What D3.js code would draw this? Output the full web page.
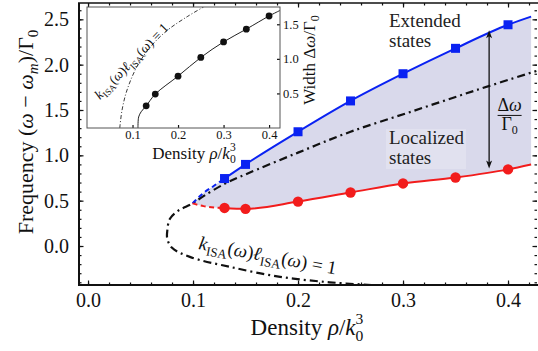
<!DOCTYPE html>
<html lang="en">
<head>
<meta charset="UTF-8">
<title>Mobility edges vs density</title>
<style>
    body { margin: 0; background: #fff; }
    svg { display: block; font-family: "Liberation Serif", "DejaVu Serif", "Times New Roman", serif; }
    text { font-family: "Liberation Serif", "DejaVu Serif", "Times New Roman", serif; fill: #111; }
    .tickLbl text { font-size: 20px; }
    .insetTick text { font-size: 12.5px; }
    .tick line { stroke: #111; stroke-width: 1.2px; }
    .axisTitle { font-size: 22px; }
    .insetTitle { font-size: 17px; }
    .stateLbl { font-size: 19px; fill: #222; }
    .upper { stroke: #0a22f2; stroke-width: 2px; fill: none; }
    .lower { stroke: #f21c1c; stroke-width: 2px; fill: none; }
    .kl { stroke: #111; stroke-width: 2.2px; fill: none; stroke-dasharray: 8 4 2 4; }
</style>
<script src="https://cdn.jsdelivr.net/npm/d3@7"></script>
</head>
<body>
<script>
    // ---- data ----
    // mobility edges (upper = blue, lower = red) on a shared density grid
    const density    = [0.0995, 0.11, 0.12, 0.13, 0.15, 0.20, 0.25, 0.30, 0.35, 0.40, 0.422];
    const upperEdge  = [0.47, 0.585, 0.665, 0.744, 0.90, 1.26, 1.60, 1.90, 2.18, 2.44, 2.53];
    const lowerEdge  = [0.47, 0.44, 0.425, 0.42, 0.41, 0.49, 0.59, 0.69, 0.755, 0.845, 0.90];

    // computed points (markers)
    const markerDensity = [0.13, 0.15, 0.20, 0.25, 0.30, 0.35, 0.40];
    const upperMarkers  = [0.744, 0.90, 1.26, 1.60, 1.90, 2.18, 2.44];
    const lowerMarkers  = [0.42, 0.41, 0.49, 0.59, 0.69, 0.755, 0.845];

    // k_ISA * l_ISA = 1 contour (main panel)
    const klDensity = [0.27, 0.23, 0.183, 0.135, 0.097, 0.080, 0.0755, 0.0755, 0.078, 0.086, 0.0988, 0.11, 0.13, 0.15, 0.20, 0.25, 0.31, 0.37, 0.427];
    const klFreq    = [-0.43, -0.40, -0.34, -0.23, -0.12, -0.02, 0.08, 0.17, 0.30, 0.39, 0.465, 0.55, 0.685, 0.79, 1.03, 1.26, 1.49, 1.72, 1.93];

    // inset: width of the band
    const insetDensity = [0.13, 0.15, 0.20, 0.25, 0.30, 0.35, 0.40];
    const insetWidth   = [0.32, 0.49, 0.75, 1.02, 1.245, 1.43, 1.62];
    const insetCurveDensity = [0.112, 0.1135, 0.119, 0.13, 0.15, 0.20, 0.25, 0.30, 0.35, 0.40, 0.424];
    const insetCurveWidth   = [0.0, 0.16, 0.235, 0.32, 0.49, 0.75, 1.02, 1.245, 1.43, 1.62, 1.70];
    const insetKlDensity = [0.072, 0.077, 0.088, 0.110, 0.139, 0.176, 0.220, 0.256];
    const insetKlWidth   = [0.0, 0.26, 0.55, 0.89, 1.17, 1.41, 1.61, 1.75];

    // ticks
    const xTicks = [0.0, 0.1, 0.2, 0.3, 0.4];
    const yTicks = [0.0, 0.5, 1.0, 1.5, 2.0, 2.5];
    const insetXTicks = [0.1, 0.2, 0.3, 0.4];
    const insetYTicks = [0.5, 1.0, 1.5];

    // double arrow marking the band width
    const arrowDensity = 0.382;
    const arrowSpan = [0.855, 2.38];

    // ---- setup ----
    const width = 538, height = 351;
    const svg = d3.select("body").append("svg")
        .attr("width", width).attr("height", height)
        .attr("viewBox", `0,0,${width},${height}`);

    const x = d3.scaleLinear().domain([-0.0086, 0.4276]).range([79, 537]);
    const y = d3.scaleLinear().domain([-0.43, 2.68]).range([285, 3]);

    svg.append("clipPath").attr("id", "plotClip")
        .append("rect").attr("x", 79).attr("y", 3).attr("width", 458).attr("height", 282);

    const plot = svg.append("g").attr("clip-path", "url(#plotClip)");

    const edgeRows = density.map((d, i) => ({ d, up: upperEdge[i], lo: lowerEdge[i] }));

    // shaded band between the two edges
    plot.append("path")
        .datum(edgeRows)
        .attr("fill", "#d9d9eb")
        .attr("d", d3.area().x(r => x(r.d)).y0(r => y(r.lo)).y1(r => y(r.up)).curve(d3.curveMonotoneX));

    // faint box behind "Localized states"
    plot.append("rect")
        .attr("x", 386).attr("y", 129).attr("width", 80).attr("height", 40)
        .attr("fill", "#e1e1ef");

    // k l = 1 contour
    const klRows = klDensity.map((d, i) => ({ d, f: klFreq[i] }));
    plot.append("path").datum(klRows).attr("class", "kl")
        .attr("d", d3.line().x(r => x(r.d)).y(r => y(r.f)).curve(d3.curveCatmullRom.alpha(0.5)));

    // edges: dashed near the tip, solid from the first computed point on
    const edgeLine = key => d3.line().x(r => x(r.d)).y(r => y(r[key])).curve(d3.curveMonotoneX);
    const tip = edgeRows.slice(0, 4), body = edgeRows.slice(3);
    plot.append("path").datum(tip).attr("class", "upper").attr("stroke-dasharray", "5 3.5").attr("d", edgeLine("up"));
    plot.append("path").datum(body).attr("class", "upper").attr("d", edgeLine("up"));
    plot.append("path").datum(tip).attr("class", "lower").attr("stroke-dasharray", "5 3.5").attr("d", edgeLine("lo"));
    plot.append("path").datum(body).attr("class", "lower").attr("d", edgeLine("lo"));

    // markers
    plot.selectAll(".sq").data(markerDensity).enter().append("rect")
        .attr("x", (d) => x(d) - 4.5).attr("y", (d, i) => y(upperMarkers[i]) - 4.5)
        .attr("width", 9).attr("height", 9).attr("fill", "#0a22f2");
    plot.selectAll(".dot").data(markerDensity).enter().append("circle")
        .attr("cx", d => x(d)).attr("cy", (d, i) => y(lowerMarkers[i]))
        .attr("r", 5.2).attr("fill", "#f21c1c");

    // double arrow
    const arr = svg.append("g").attr("stroke", "#111").attr("fill", "#111");
    arr.append("line")
        .attr("x1", x(arrowDensity)).attr("x2", x(arrowDensity))
        .attr("y1", y(arrowSpan[1]) + 5).attr("y2", y(arrowSpan[0]) - 5)
        .attr("stroke-width", 1.3);
    arr.append("path").attr("stroke", "none")
        .attr("d", `M${x(arrowDensity)},${y(arrowSpan[1])} l-3,8 l3,-2 l3,2 z`);
    arr.append("path").attr("stroke", "none")
        .attr("d", `M${x(arrowDensity)},${y(arrowSpan[0])} l-3,-8 l3,2 l3,-2 z`);

    // fraction label  Δω / Γ0
    const frac = svg.append("g").attr("transform", `translate(${x(0.4015)},${y(1.44)})`);
    const num = frac.append("text").attr("text-anchor", "middle").attr("y", -4).style("font-size", "18px");
    num.append("tspan").text("Δ");
    num.append("tspan").text("ω").style("font-style", "italic");
    frac.append("line").attr("x1", -12).attr("x2", 12).attr("stroke", "#111").attr("stroke-width", 1);
    const den = frac.append("text").attr("text-anchor", "middle").attr("y", 15).style("font-size", "18px");
    den.append("tspan").text("Γ");
    den.append("tspan").text("0").attr("dy", 4).style("font-size", "12px");

    // state labels
    const states = [["Extended", 27], ["states", 47], ["Localized", 144], ["states", 164]];
    svg.selectAll(".stateLbl").data(states).enter().append("text")
        .attr("class", "stateLbl").attr("x", 389).attr("y", d => d[1]).text(d => d[0]);

    // k_ISA l_ISA = 1 annotation
    function klLabel(sel, fs) {
        const sub = (fs * 0.68).toFixed(1) + "px";
        const sh = fs * 0.25;
        sel.style("font-size", fs + "px");
        sel.append("tspan").text("k").style("font-style", "italic");
        sel.append("tspan").text("ISA").style("font-size", sub).attr("dy", sh);
        sel.append("tspan").text("(").attr("dy", -sh);
        sel.append("tspan").text("ω").style("font-style", "italic");
        sel.append("tspan").text(")");
        sel.append("tspan").text("ℓ").style("font-style", "italic");
        sel.append("tspan").text("ISA").style("font-size", sub).attr("dy", sh);
        sel.append("tspan").text("(").attr("dy", -sh);
        sel.append("tspan").text("ω").style("font-style", "italic");
        sel.append("tspan").text(") = 1");
    }
    klLabel(svg.append("text").attr("transform", "translate(198,249) rotate(10.5)"), 19);

    // ---- axes ----
    const fmt = d3.format(".1f");
    const xMinor = d3.range(0, 0.43, 0.02);
    const yMinor = d3.range(-0.4, 2.65, 0.1);

    function styleAxis(g) { g.select(".domain").remove(); g.attr("font-family", null).attr("font-size", null); }

    svg.append("g").attr("transform", "translate(0,285)")
        .call(d3.axisBottom(x).tickValues(xMinor).tickSize(-2.5).tickFormat("")).call(styleAxis);
    svg.append("g").attr("class", "tickLbl").attr("transform", "translate(0,285)")
        .call(d3.axisBottom(x).tickValues(xTicks).tickSize(-4.5).tickPadding(8).tickFormat(fmt)).call(styleAxis);
    svg.append("g").attr("transform", "translate(0,3)")
        .call(d3.axisTop(x).tickValues(xMinor).tickSize(-2.5).tickFormat("")).call(styleAxis);
    svg.append("g").attr("transform", "translate(0,3)")
        .call(d3.axisTop(x).tickValues(xTicks).tickSize(-4.5).tickFormat("")).call(styleAxis);

    svg.append("g").attr("transform", "translate(79,0)")
        .call(d3.axisLeft(y).tickValues(yMinor).tickSize(-2.5).tickFormat("")).call(styleAxis);
    svg.append("g").attr("class", "tickLbl").attr("transform", "translate(79,0)")
        .call(d3.axisLeft(y).tickValues(yTicks).tickSize(-4.5).tickPadding(10).tickFormat(fmt)).call(styleAxis);
    svg.append("g").attr("transform", "translate(537,0)")
        .call(d3.axisRight(y).tickValues(yMinor).tickSize(-2.5).tickFormat("")).call(styleAxis);
    svg.append("g").attr("transform", "translate(537,0)")
        .call(d3.axisRight(y).tickValues(yTicks).tickSize(-4.5).tickFormat("")).call(styleAxis);

    // frame (left, bottom, top)
    const frame = svg.append("g").attr("stroke", "#111");
    frame.append("line").attr("x1", 79).attr("x2", 79).attr("y1", 3).attr("y2", 286).attr("stroke-width", 2);
    frame.append("line").attr("x1", 78).attr("x2", 538).attr("y1", 285).attr("y2", 285).attr("stroke-width", 2);
    frame.append("line").attr("x1", 78).attr("x2", 538).attr("y1", 3).attr("y2", 3).attr("stroke-width", 1.5);

    // axis titles
    const yt = svg.append("text").attr("class", "axisTitle").attr("text-anchor", "middle")
        .attr("transform", "translate(33,132) rotate(-90)");
    yt.append("tspan").text("Frequency (");
    yt.append("tspan").text("ω").style("font-style", "italic");
    yt.append("tspan").text(" − ");
    yt.append("tspan").text("ω").style("font-style", "italic");
    yt.append("tspan").text("m").style("font-style", "italic").style("font-size", "15px").attr("dy", 5);
    yt.append("tspan").text(")/Γ").attr("dy", -5);
    yt.append("tspan").text("0").style("font-size", "15px").attr("dy", 5);

    function densityTitle(sel, fs) {
        const sub = (fs * 0.68).toFixed(1) + "px";
        sel.style("font-size", fs + "px");
        sel.append("tspan").text("Density ");
        sel.append("tspan").text("ρ").style("font-style", "italic");
        sel.append("tspan").text("/");
        sel.append("tspan").text("k").style("font-style", "italic");
        sel.append("tspan").text("0").style("font-size", sub).attr("dy", fs * 0.25);
        sel.append("tspan").text("3").style("font-size", sub).attr("dx", -fs * 0.34).attr("dy", -fs * 0.72);
    }
    densityTitle(svg.append("text").attr("text-anchor", "middle").attr("x", 307).attr("y", 335), 23);

    // ---- inset ----
    const ix = d3.scaleLinear().domain([0, 0.424]).range([87, 280]);
    const iy = d3.scaleLinear().domain([0, 1.75]).range([128, 7]);

    const inset = svg.append("g");
    inset.append("clipPath").attr("id", "insetClip")
        .append("rect").attr("x", 87).attr("y", 7).attr("width", 193).attr("height", 121);
    inset.append("rect").attr("x", 87).attr("y", 7).attr("width", 193).attr("height", 121)
        .attr("fill", "#fff");

    const ip = inset.append("g").attr("clip-path", "url(#insetClip)");
    ip.append("path")
        .datum(insetKlDensity.map((d, i) => [d, insetKlWidth[i]]))
        .attr("fill", "none").attr("stroke", "#222").attr("stroke-width", 0.9).attr("stroke-dasharray", "4 2 1 2")
        .attr("d", d3.line().x(p => ix(p[0])).y(p => iy(p[1])).curve(d3.curveCatmullRom.alpha(0.5)));
    ip.append("path")
        .datum(insetCurveDensity.map((d, i) => [d, insetCurveWidth[i]]))
        .attr("fill", "none").attr("stroke", "#222").attr("stroke-width", 1)
        .attr("d", d3.line().x(p => ix(p[0])).y(p => iy(p[1])).curve(d3.curveCatmullRom.alpha(0.5)));
    ip.selectAll(".idot").data(insetDensity).enter().append("circle")
        .attr("cx", d => ix(d)).attr("cy", (d, i) => iy(insetWidth[i])).attr("r", 3.4).attr("fill", "#111");

    inset.append("g").attr("class", "insetTick").attr("transform", "translate(0,128)")
        .call(d3.axisBottom(ix).tickValues(insetXTicks).tickSize(-3).tickPadding(2).tickFormat(fmt)).call(styleAxis);
    inset.append("g").attr("class", "insetTick").attr("transform", "translate(280,0)")
        .call(d3.axisRight(iy).tickValues(insetYTicks).tickSize(-3).tickPadding(3).tickFormat(fmt)).call(styleAxis);
    inset.append("rect").attr("x", 87).attr("y", 7).attr("width", 193).attr("height", 121)
        .attr("fill", "none").attr("stroke", "#555").attr("stroke-width", 1);

    klLabel(inset.append("text").attr("transform", "translate(100,100) rotate(-46)"), 13.5);

    densityTitle(inset.append("text").attr("text-anchor", "middle").attr("x", 194).attr("y", 159), 17);
    const iyt = inset.append("text").attr("class", "insetTitle").attr("text-anchor", "middle")
        .attr("transform", "translate(315,60) rotate(-90)");
    iyt.append("tspan").text("Width Δ");
    iyt.append("tspan").text("ω").style("font-style", "italic");
    iyt.append("tspan").text("/Γ");
    iyt.append("tspan").text("0").style("font-size", "12px").attr("dy", 4);
</script>
</body>
</html>
